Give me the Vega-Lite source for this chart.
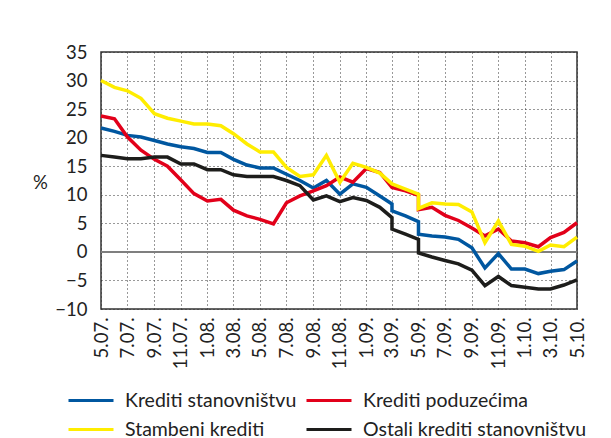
{
  "$schema": "https://vega.github.io/schema/vega-lite/v6.json",
  "width": 476,
  "height": 257,
  "autosize": "none",
  "padding": {"left": 101, "top": 52, "right": 34, "bottom": 129},
  "background": "white",
  "config": {
    "font": "Lato",
    "view": {"stroke": "#333333", "strokeWidth": 1.5},
    "axis": {"labelColor": "#222222", "titleColor": "#222222", "labelFontSize": 18.5, "titleFontSize": 18.5, "titleFontWeight": "normal"}
  },
  "data": {"values": [
    {"date": "2007-05-01", "series": "Krediti stanovništvu", "value": 21.7},
    {"date": "2007-06-01", "series": "Krediti stanovništvu", "value": 21.1},
    {"date": "2007-07-01", "series": "Krediti stanovništvu", "value": 20.4},
    {"date": "2007-08-01", "series": "Krediti stanovništvu", "value": 20.1},
    {"date": "2007-09-01", "series": "Krediti stanovništvu", "value": 19.5},
    {"date": "2007-10-01", "series": "Krediti stanovništvu", "value": 18.9},
    {"date": "2007-11-01", "series": "Krediti stanovništvu", "value": 18.4},
    {"date": "2007-12-01", "series": "Krediti stanovništvu", "value": 18.1},
    {"date": "2008-01-01", "series": "Krediti stanovništvu", "value": 17.4},
    {"date": "2008-02-01", "series": "Krediti stanovništvu", "value": 17.4},
    {"date": "2008-03-01", "series": "Krediti stanovništvu", "value": 16.2},
    {"date": "2008-04-01", "series": "Krediti stanovništvu", "value": 15.2},
    {"date": "2008-05-01", "series": "Krediti stanovništvu", "value": 14.7},
    {"date": "2008-06-01", "series": "Krediti stanovništvu", "value": 14.7},
    {"date": "2008-07-01", "series": "Krediti stanovništvu", "value": 13.6},
    {"date": "2008-08-01", "series": "Krediti stanovništvu", "value": 12.5},
    {"date": "2008-09-01", "series": "Krediti stanovništvu", "value": 11.2},
    {"date": "2008-10-01", "series": "Krediti stanovništvu", "value": 12.5},
    {"date": "2008-11-01", "series": "Krediti stanovništvu", "value": 10.1},
    {"date": "2008-12-01", "series": "Krediti stanovništvu", "value": 11.9},
    {"date": "2009-01-01", "series": "Krediti stanovništvu", "value": 11.3},
    {"date": "2009-02-01", "series": "Krediti stanovništvu", "value": 9.8},
    {"date": "2009-03-01", "series": "Krediti stanovništvu", "value": 8.4},
    {"date": "2009-03-01", "series": "Krediti stanovništvu", "value": 7.2},
    {"date": "2009-04-01", "series": "Krediti stanovništvu", "value": 6.3},
    {"date": "2009-05-01", "series": "Krediti stanovništvu", "value": 5.3},
    {"date": "2009-05-01", "series": "Krediti stanovništvu", "value": 3.1},
    {"date": "2009-06-01", "series": "Krediti stanovništvu", "value": 2.8},
    {"date": "2009-07-01", "series": "Krediti stanovništvu", "value": 2.6},
    {"date": "2009-08-01", "series": "Krediti stanovništvu", "value": 2.2},
    {"date": "2009-09-01", "series": "Krediti stanovništvu", "value": 0.7},
    {"date": "2009-10-01", "series": "Krediti stanovništvu", "value": -2.8},
    {"date": "2009-11-01", "series": "Krediti stanovništvu", "value": -0.3},
    {"date": "2009-12-01", "series": "Krediti stanovništvu", "value": -3.0},
    {"date": "2010-01-01", "series": "Krediti stanovništvu", "value": -3.0},
    {"date": "2010-02-01", "series": "Krediti stanovništvu", "value": -3.8},
    {"date": "2010-03-01", "series": "Krediti stanovništvu", "value": -3.4},
    {"date": "2010-04-01", "series": "Krediti stanovništvu", "value": -3.1},
    {"date": "2010-05-01", "series": "Krediti stanovništvu", "value": -1.6},

    {"date": "2007-05-01", "series": "Krediti poduzećima", "value": 23.8},
    {"date": "2007-06-01", "series": "Krediti poduzećima", "value": 23.3},
    {"date": "2007-07-01", "series": "Krediti poduzećima", "value": 20.1},
    {"date": "2007-08-01", "series": "Krediti poduzećima", "value": 17.8},
    {"date": "2007-09-01", "series": "Krediti poduzećima", "value": 16.2},
    {"date": "2007-10-01", "series": "Krediti poduzećima", "value": 15.0},
    {"date": "2007-11-01", "series": "Krediti poduzećima", "value": 12.6},
    {"date": "2007-12-01", "series": "Krediti poduzećima", "value": 10.2},
    {"date": "2008-01-01", "series": "Krediti poduzećima", "value": 8.9},
    {"date": "2008-02-01", "series": "Krediti poduzećima", "value": 9.2},
    {"date": "2008-03-01", "series": "Krediti poduzećima", "value": 7.3},
    {"date": "2008-04-01", "series": "Krediti poduzećima", "value": 6.3},
    {"date": "2008-05-01", "series": "Krediti poduzećima", "value": 5.7},
    {"date": "2008-06-01", "series": "Krediti poduzećima", "value": 4.9},
    {"date": "2008-07-01", "series": "Krediti poduzećima", "value": 8.6},
    {"date": "2008-08-01", "series": "Krediti poduzećima", "value": 9.8},
    {"date": "2008-09-01", "series": "Krediti poduzećima", "value": 10.7},
    {"date": "2008-10-01", "series": "Krediti poduzećima", "value": 11.6},
    {"date": "2008-11-01", "series": "Krediti poduzećima", "value": 13.1},
    {"date": "2008-12-01", "series": "Krediti poduzećima", "value": 12.2},
    {"date": "2009-01-01", "series": "Krediti poduzećima", "value": 14.6},
    {"date": "2009-02-01", "series": "Krediti poduzećima", "value": 13.9},
    {"date": "2009-03-01", "series": "Krediti poduzećima", "value": 11.3},
    {"date": "2009-04-01", "series": "Krediti poduzećima", "value": 10.7},
    {"date": "2009-05-01", "series": "Krediti poduzećima", "value": 9.9},
    {"date": "2009-05-01", "series": "Krediti poduzećima", "value": 7.4},
    {"date": "2009-06-01", "series": "Krediti poduzećima", "value": 7.8},
    {"date": "2009-07-01", "series": "Krediti poduzećima", "value": 6.4},
    {"date": "2009-08-01", "series": "Krediti poduzećima", "value": 5.5},
    {"date": "2009-09-01", "series": "Krediti poduzećima", "value": 4.2},
    {"date": "2009-10-01", "series": "Krediti poduzećima", "value": 2.8},
    {"date": "2009-11-01", "series": "Krediti poduzećima", "value": 4.0},
    {"date": "2009-12-01", "series": "Krediti poduzećima", "value": 1.9},
    {"date": "2010-01-01", "series": "Krediti poduzećima", "value": 1.6},
    {"date": "2010-02-01", "series": "Krediti poduzećima", "value": 0.9},
    {"date": "2010-03-01", "series": "Krediti poduzećima", "value": 2.5},
    {"date": "2010-04-01", "series": "Krediti poduzećima", "value": 3.4},
    {"date": "2010-05-01", "series": "Krediti poduzećima", "value": 5.1},

    {"date": "2007-05-01", "series": "Stambeni krediti", "value": 30.0},
    {"date": "2007-06-01", "series": "Stambeni krediti", "value": 28.8},
    {"date": "2007-07-01", "series": "Stambeni krediti", "value": 28.2},
    {"date": "2007-08-01", "series": "Stambeni krediti", "value": 26.9},
    {"date": "2007-09-01", "series": "Stambeni krediti", "value": 24.2},
    {"date": "2007-10-01", "series": "Stambeni krediti", "value": 23.4},
    {"date": "2007-11-01", "series": "Stambeni krediti", "value": 22.9},
    {"date": "2007-12-01", "series": "Stambeni krediti", "value": 22.4},
    {"date": "2008-01-01", "series": "Stambeni krediti", "value": 22.4},
    {"date": "2008-02-01", "series": "Stambeni krediti", "value": 22.1},
    {"date": "2008-03-01", "series": "Stambeni krediti", "value": 20.7},
    {"date": "2008-04-01", "series": "Stambeni krediti", "value": 18.9},
    {"date": "2008-05-01", "series": "Stambeni krediti", "value": 17.5},
    {"date": "2008-06-01", "series": "Stambeni krediti", "value": 17.5},
    {"date": "2008-07-01", "series": "Stambeni krediti", "value": 14.8},
    {"date": "2008-08-01", "series": "Stambeni krediti", "value": 13.2},
    {"date": "2008-09-01", "series": "Stambeni krediti", "value": 13.5},
    {"date": "2008-10-01", "series": "Stambeni krediti", "value": 16.9},
    {"date": "2008-11-01", "series": "Stambeni krediti", "value": 12.2},
    {"date": "2008-12-01", "series": "Stambeni krediti", "value": 15.5},
    {"date": "2009-01-01", "series": "Stambeni krediti", "value": 14.8},
    {"date": "2009-02-01", "series": "Stambeni krediti", "value": 13.8},
    {"date": "2009-03-01", "series": "Stambeni krediti", "value": 11.9},
    {"date": "2009-04-01", "series": "Stambeni krediti", "value": 11.0},
    {"date": "2009-05-01", "series": "Stambeni krediti", "value": 10.1},
    {"date": "2009-05-01", "series": "Stambeni krediti", "value": 7.6},
    {"date": "2009-06-01", "series": "Stambeni krediti", "value": 8.6},
    {"date": "2009-07-01", "series": "Stambeni krediti", "value": 8.4},
    {"date": "2009-08-01", "series": "Stambeni krediti", "value": 8.3},
    {"date": "2009-09-01", "series": "Stambeni krediti", "value": 7.0},
    {"date": "2009-10-01", "series": "Stambeni krediti", "value": 1.6},
    {"date": "2009-11-01", "series": "Stambeni krediti", "value": 5.4},
    {"date": "2009-12-01", "series": "Stambeni krediti", "value": 1.3},
    {"date": "2010-01-01", "series": "Stambeni krediti", "value": 1.0},
    {"date": "2010-02-01", "series": "Stambeni krediti", "value": 0.1},
    {"date": "2010-03-01", "series": "Stambeni krediti", "value": 1.2},
    {"date": "2010-04-01", "series": "Stambeni krediti", "value": 0.9},
    {"date": "2010-05-01", "series": "Stambeni krediti", "value": 2.6},

    {"date": "2007-05-01", "series": "Ostali krediti stanovništvu", "value": 16.9},
    {"date": "2007-06-01", "series": "Ostali krediti stanovništvu", "value": 16.6},
    {"date": "2007-07-01", "series": "Ostali krediti stanovništvu", "value": 16.3},
    {"date": "2007-08-01", "series": "Ostali krediti stanovništvu", "value": 16.3},
    {"date": "2007-09-01", "series": "Ostali krediti stanovništvu", "value": 16.6},
    {"date": "2007-10-01", "series": "Ostali krediti stanovništvu", "value": 16.6},
    {"date": "2007-11-01", "series": "Ostali krediti stanovništvu", "value": 15.4},
    {"date": "2007-12-01", "series": "Ostali krediti stanovništvu", "value": 15.4},
    {"date": "2008-01-01", "series": "Ostali krediti stanovništvu", "value": 14.4},
    {"date": "2008-02-01", "series": "Ostali krediti stanovništvu", "value": 14.4},
    {"date": "2008-03-01", "series": "Ostali krediti stanovništvu", "value": 13.5},
    {"date": "2008-04-01", "series": "Ostali krediti stanovništvu", "value": 13.2},
    {"date": "2008-05-01", "series": "Ostali krediti stanovništvu", "value": 13.2},
    {"date": "2008-06-01", "series": "Ostali krediti stanovništvu", "value": 13.2},
    {"date": "2008-07-01", "series": "Ostali krediti stanovništvu", "value": 12.5},
    {"date": "2008-08-01", "series": "Ostali krediti stanovništvu", "value": 11.6},
    {"date": "2008-09-01", "series": "Ostali krediti stanovništvu", "value": 9.1},
    {"date": "2008-10-01", "series": "Ostali krediti stanovništvu", "value": 9.8},
    {"date": "2008-11-01", "series": "Ostali krediti stanovništvu", "value": 8.8},
    {"date": "2008-12-01", "series": "Ostali krediti stanovništvu", "value": 9.5},
    {"date": "2009-01-01", "series": "Ostali krediti stanovništvu", "value": 9.0},
    {"date": "2009-02-01", "series": "Ostali krediti stanovništvu", "value": 7.8},
    {"date": "2009-03-01", "series": "Ostali krediti stanovništvu", "value": 6.0},
    {"date": "2009-03-01", "series": "Ostali krediti stanovništvu", "value": 4.0},
    {"date": "2009-04-01", "series": "Ostali krediti stanovništvu", "value": 3.1},
    {"date": "2009-05-01", "series": "Ostali krediti stanovništvu", "value": 2.2},
    {"date": "2009-05-01", "series": "Ostali krediti stanovništvu", "value": -0.2},
    {"date": "2009-06-01", "series": "Ostali krediti stanovništvu", "value": -0.9},
    {"date": "2009-07-01", "series": "Ostali krediti stanovništvu", "value": -1.5},
    {"date": "2009-08-01", "series": "Ostali krediti stanovništvu", "value": -2.1},
    {"date": "2009-09-01", "series": "Ostali krediti stanovništvu", "value": -3.2},
    {"date": "2009-10-01", "series": "Ostali krediti stanovništvu", "value": -5.9},
    {"date": "2009-11-01", "series": "Ostali krediti stanovništvu", "value": -4.3},
    {"date": "2009-12-01", "series": "Ostali krediti stanovništvu", "value": -5.9},
    {"date": "2010-01-01", "series": "Ostali krediti stanovništvu", "value": -6.2},
    {"date": "2010-02-01", "series": "Ostali krediti stanovništvu", "value": -6.5},
    {"date": "2010-03-01", "series": "Ostali krediti stanovništvu", "value": -6.5},
    {"date": "2010-04-01", "series": "Ostali krediti stanovništvu", "value": -5.8},
    {"date": "2010-05-01", "series": "Ostali krediti stanovništvu", "value": -4.9}
  ]},
  "encoding": {
    "y": {
      "field": "value", "type": "quantitative",
      "scale": {"domain": [-10, 35], "nice": false, "zero": false},
      "axis": {
        "title": "%",
        "titleAngle": 0,
        "titleAlign": "center",
        "titleBaseline": "middle",
        "titleX": -61,
        "titleY": 130,
        "values": [-10, -5, 0, 5, 10, 15, 20, 25, 30, 35],
        "labelExpr": "replace(datum.label, '-', '−')",
        "labelPadding": 14,
        "ticks": false,
        "domain": false,
        "grid": true,
        "gridColor": "#333333",
        "gridDash": [1, 3],
        "gridWidth": 1,
        "labelOverlap": false,
        "labelFlush": false
      }
    }
  },
  "layer": [
    {
      "data": {"values": [{"value": 0}]},
      "mark": {"type": "rule", "color": "#7f7f7f", "strokeWidth": 2},
      "encoding": {}
    },
    {
      "mark": {"type": "line", "strokeWidth": 3.5, "strokeJoin": "miter"},
      "encoding": {
        "x": {
          "field": "date", "type": "temporal",
          "scale": {"type": "utc", "nice": false},
          "axis": {
            "title": null,
            "values": [
              {"year": 2007, "month": 5, "date": 1, "utc": true},
              {"year": 2007, "month": 7, "date": 1, "utc": true},
              {"year": 2007, "month": 9, "date": 1, "utc": true},
              {"year": 2007, "month": 11, "date": 1, "utc": true},
              {"year": 2008, "month": 1, "date": 1, "utc": true},
              {"year": 2008, "month": 3, "date": 1, "utc": true},
              {"year": 2008, "month": 5, "date": 1, "utc": true},
              {"year": 2008, "month": 7, "date": 1, "utc": true},
              {"year": 2008, "month": 9, "date": 1, "utc": true},
              {"year": 2008, "month": 11, "date": 1, "utc": true},
              {"year": 2009, "month": 1, "date": 1, "utc": true},
              {"year": 2009, "month": 3, "date": 1, "utc": true},
              {"year": 2009, "month": 5, "date": 1, "utc": true},
              {"year": 2009, "month": 7, "date": 1, "utc": true},
              {"year": 2009, "month": 9, "date": 1, "utc": true},
              {"year": 2009, "month": 11, "date": 1, "utc": true},
              {"year": 2010, "month": 1, "date": 1, "utc": true},
              {"year": 2010, "month": 3, "date": 1, "utc": true},
              {"year": 2010, "month": 5, "date": 1, "utc": true}
            ],
            "labelExpr": "utcFormat(datum.value, '%-m.%y.')",
            "labelAngle": -90,
            "labelAlign": "right",
            "labelBaseline": "middle",
            "labelPadding": 8,
            "ticks": false,
            "domain": false,
            "grid": true,
            "gridColor": "#333333",
            "gridDash": [1, 3],
            "gridWidth": 1,
            "labelOverlap": false,
            "labelBound": false,
            "labelFlush": false
          }
        },
        "color": {
          "field": "series", "type": "nominal",
          "scale": {
            "domain": ["Krediti stanovništvu", "Krediti poduzećima", "Stambeni krediti", "Ostali krediti stanovništvu"],
            "range": ["#0057a0", "#e2001a", "#ffed00", "#1d1d1b"]
          },
          "legend": {
            "orient": "none",
            "direction": "horizontal",
            "legendX": -34,
            "legendY": 337,
            "columns": 2,
            "columnPadding": 3,
            "rowPadding": 8,
            "title": null,
            "padding": 0,
            "symbolType": "M-1,0H3.5",
            "symbolSize": 400,
            "symbolStrokeWidth": 3,
            "labelOffset": 35,
            "labelFontSize": 19.5,
            "labelColor": "#222222",
            "labelLimit": 400
          }
        }
      }
    }
  ]
}
